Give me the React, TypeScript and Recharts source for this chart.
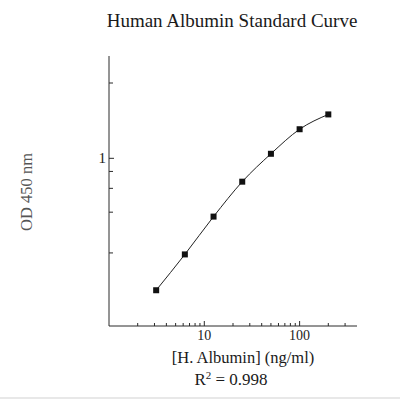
import { LineChart, Line, XAxis, YAxis } from "recharts";

// standard concentrations (ng/ml) and measured OD at 450 nm
const CONC = [3.125, 6.25, 12.5, 25, 50, 100, 200];
const OD = [0.106, 0.195, 0.371, 0.672, 1.08, 1.64, 2.11];

const X_TICKS = [2, 3, 4, 5, 6, 7, 8, 9, 10, 20, 30, 40, 50, 60, 70, 80, 90, 100, 200, 300];
const X_LABELED = [10, 100];
const Y_TICKS = [0.2, 0.4, 0.6, 0.8, 1, 3.6];
const Y_LABELED = [1];

const data = CONC.map((c, i) => ({ conc: c, od: OD[i] }));

const INK = "#2a2a2a";
const SERIF = "'Liberation Serif', 'Times New Roman', serif";

function XTick({ x, y, payload }: any) {
  const major = X_LABELED.includes(payload.value);
  return (
    <g>
      <line x1={x} x2={x} y1={y} y2={y - (major ? 5 : 3)} stroke={INK} strokeWidth={1} />
      {major && (
        <text x={x} y={y + 14} textAnchor="middle" fontSize={14} fontFamily={SERIF} fill="#222">
          {payload.value}
        </text>
      )}
    </g>
  );
}

function YTick({ x, y, payload }: any) {
  const major = Y_LABELED.includes(payload.value);
  return (
    <g>
      <line x1={x} x2={x + (major ? 5 : 4)} y1={y} y2={y} stroke={INK} strokeWidth={1} />
      {major && (
        <text x={x - 3} y={y + 5} textAnchor="end" fontSize={15} fontFamily={SERIF} fill="#222">
          {payload.value}
        </text>
      )}
    </g>
  );
}

function SquareDot({ cx, cy }: any) {
  if (cx == null || cy == null) return null;
  return <rect x={cx - 3} y={cy - 3} width={6} height={6} fill="#111" />;
}

export default function App() {
  return (
    <div style={{ position: "fixed", left: 0, top: 0, width: 400, height: 400, background: "#fff" }}>
      <LineChart width={400} height={400} data={data} margin={{ top: 56, right: 43, bottom: 44, left: 79 }}>
        <XAxis
          dataKey="conc"
          type="number"
          scale="log"
          domain={[1, 400]}
          allowDataOverflow
          ticks={X_TICKS}
          interval={0}
          height={30}
          tickSize={0}
          tickMargin={0}
          tick={<XTick />}
          axisLine={{ stroke: INK, strokeWidth: 1 }}
        />
        <YAxis
          type="number"
          scale="log"
          domain={[0.0577, 5.7]}
          allowDataOverflow
          ticks={Y_TICKS}
          interval={0}
          width={30}
          tickSize={0}
          tickMargin={0}
          tick={<YTick />}
          axisLine={{ stroke: INK, strokeWidth: 1 }}
        />
        <Line
          dataKey="od"
          type="monotone"
          stroke="#222"
          strokeWidth={1}
          dot={<SquareDot />}
          activeDot={false}
          isAnimationActive={false}
        />
      </LineChart>
      <svg width={400} height={400} style={{ position: "absolute", left: 0, top: 0, pointerEvents: "none" }}>
        <text x={232} y={27} textAnchor="middle" fontSize={19} fontFamily={SERIF} fill="#1a1a1a">
          Human Albumin Standard Curve
        </text>
        <text
          x={32}
          y={192}
          textAnchor="middle"
          fontSize={16.5}
          fontFamily={SERIF}
          fill="#555"
          transform="rotate(-90 32 192)"
        >
          OD 450 nm
        </text>
        <text x={243} y={363} textAnchor="middle" fontSize={16.5} fontFamily={SERIF} fill="#1a1a1a">
          [H. Albumin] (ng/ml)
        </text>
        <text x={231} y={385} textAnchor="middle" fontSize={17} fontFamily={SERIF} fill="#1a1a1a">
          R<tspan dy={-6} fontSize={11}>2</tspan>
          <tspan dy={6}> = 0.998</tspan>
        </text>
        <line x1={0} x2={400} y1={398} y2={398} stroke="#e8e8e8" strokeWidth={2} />
      </svg>
    </div>
  );
}
